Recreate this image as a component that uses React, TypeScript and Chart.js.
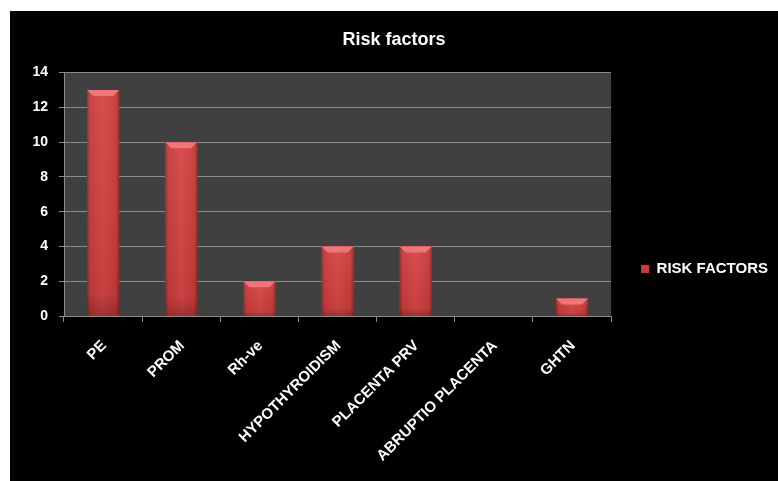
import { useEffect, useRef } from 'react';
import { Chart, registerables } from 'chart.js';

Chart.register(...registerables);

const chartTitle = 'Risk factors';
const seriesLabel = 'RISK FACTORS';
const categories = ['PE', 'PROM', 'Rh-ve', 'HYPOTHYROIDISM', 'PLACENTA PRV', 'ABRUPTIO PLACENTA', 'GHTN'];
const riskFactors = [13, 10, 2, 4, 4, 0, 1];
const yMin = 0;
const yMax = 14;
const yStep = 2;

const FONT = "'Liberation Sans', Arial, Helvetica, sans-serif";

const plotBackground = {
  id: 'plotBackground',
  beforeDraw(chart: any) {
    const { ctx, chartArea } = chart;
    ctx.save();
    ctx.fillStyle = '#000000';
    ctx.fillRect(0, 0, chart.width, chart.height);
    ctx.fillStyle = '#404040';
    ctx.fillRect(chartArea.left, chartArea.top, chartArea.right - chartArea.left, chartArea.bottom - chartArea.top);
    ctx.restore();
  },
};

const bevelBars = {
  id: 'bevelBars',
  afterDatasetsDraw(chart: any) {
    const { ctx } = chart;
    const meta = chart.getDatasetMeta(0);
    meta.data.forEach((bar: any) => {
      const { x, y, base, width } = bar.getProps(['x', 'y', 'base', 'width'], true);
      const h = base - y;
      if (h <= 0.5) return;
      const l = x - width / 2;
      const r = x + width / 2;
      ctx.save();
      const g = ctx.createLinearGradient(l, 0, r, 0);
      g.addColorStop(0, '#922626');
      g.addColorStop(0.09, '#c53b3b');
      g.addColorStop(0.5, '#d64545');
      g.addColorStop(0.91, '#c53b3b');
      g.addColorStop(1, '#922626');
      ctx.fillStyle = g;
      ctx.fillRect(l, y, width, h);
      const v = ctx.createLinearGradient(0, y, 0, base);
      v.addColorStop(0, 'rgba(255,255,255,0.05)');
      v.addColorStop(0.9, 'rgba(0,0,0,0.06)');
      v.addColorStop(1, 'rgba(0,0,0,0.25)');
      ctx.fillStyle = v;
      ctx.fillRect(l, y, width, h);
      const bev = Math.min(6, h / 2);
      ctx.beginPath();
      ctx.moveTo(l, y);
      ctx.lineTo(r, y);
      ctx.lineTo(r - bev, y + bev);
      ctx.lineTo(l + bev, y + bev);
      ctx.closePath();
      ctx.fillStyle = '#ee7676';
      ctx.fill();
      ctx.restore();
    });
  },
};

export default function App() {
  const ref = useRef<HTMLCanvasElement | null>(null);

  useEffect(() => {
    if (!ref.current) return;
    const chart = new Chart(ref.current, {
      type: 'bar',
      data: {
        labels: categories,
        datasets: [
          {
            label: seriesLabel,
            data: riskFactors,
            backgroundColor: '#c93c3c',
            borderColor: '#8a2222',
            borderWidth: 0,
            barPercentage: 0.41,
            categoryPercentage: 1,
          },
        ],
      },
      options: {
        responsive: false,
        animation: false,
        layout: { padding: { left: 0, right: 0, top: 0, bottom: 14 } },
        plugins: {
          title: {
            display: true,
            text: chartTitle,
            color: '#ffffff',
            font: { family: FONT, size: 18, weight: 'bold' },
            padding: { top: 18, bottom: 22 },
          },
          legend: {
            display: true,
            position: 'right',
            title: {
              display: true,
              text: '',
              font: { family: FONT, size: 12 },
              padding: { top: 45.6, bottom: 0 },
            },
            labels: {
              color: '#ffffff',
              boxWidth: 8,
              boxHeight: 8,
              padding: 30,
              font: { family: FONT, size: 15, weight: 'bold' },
            },
          },
          tooltip: { enabled: false },
        },
        scales: {
          x: {
            offset: true,
            afterFit(scale: any) {
              scale.height = 151;
            },
            grid: {
              offset: true,
              drawOnChartArea: false,
              drawTicks: true,
              tickLength: 6,
              color: '#8c8c8c',
            },
            border: { color: '#8c8c8c', width: 1 },
            ticks: {
              color: '#ffffff',
              font: { family: FONT, size: 15, weight: 'bold' },
              minRotation: 45,
              maxRotation: 45,
              autoSkip: false,
              padding: 15,
              labelOffset: 1,
            },
          },
          y: {
            min: yMin,
            max: yMax,
            afterFit(scale: any) {
              scale.width = 54;
            },
            ticks: {
              stepSize: yStep,
              color: '#ffffff',
              font: { family: FONT, size: 14, weight: 'bold' },
              padding: 11,
            },
            grid: {
              color: '#8c8c8c',
              tickLength: 5,
            },
            border: { color: '#8c8c8c', width: 1 },
          },
        },
      },
      plugins: [plotBackground, bevelBars],
    });
    return () => chart.destroy();
  }, []);

  return (
    <div style={{ position: 'absolute', left: 10, top: 11, width: 768, height: 470, background: '#000' }}>
      <canvas ref={ref} width={768} height={470} style={{ display: 'block', width: 768, height: 470 }} />
    </div>
  );
}
